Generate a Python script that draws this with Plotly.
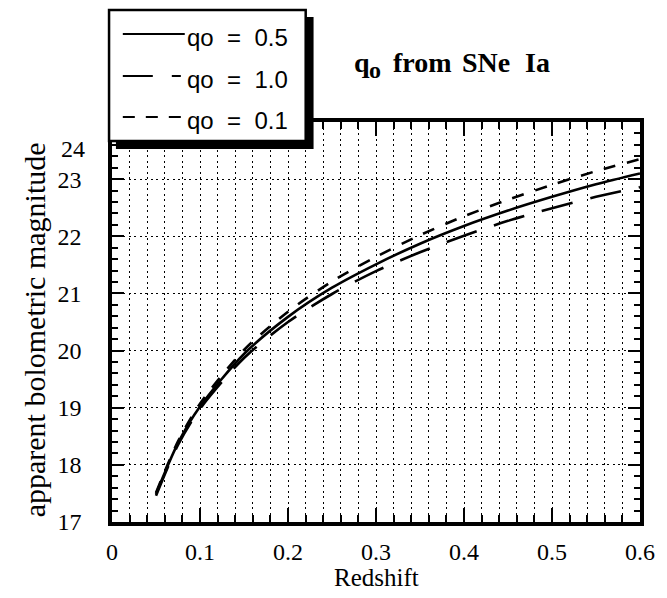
import plotly.graph_objects as go

# ---------------- data ----------------
redshift = [0.05, 0.075, 0.1, 0.15, 0.2, 0.25, 0.3, 0.35, 0.4, 0.45, 0.5, 0.55, 0.6]
mag_q05 = [17.49, 18.38, 19.02, 19.94, 20.59, 21.10, 21.51, 21.87, 22.18, 22.45, 22.69, 22.91, 23.10]
mag_q10 = [17.46, 18.35, 18.98, 19.87, 20.50, 20.99, 21.39, 21.72, 22.01, 22.27, 22.49, 22.69, 22.86]
mag_q01 = [17.51, 18.41, 19.07, 20.01, 20.68, 21.21, 21.64, 22.02, 22.35, 22.64, 22.90, 23.14, 23.35]

series_names = ["qo\u00a0 =\u00a0 0.5", "qo\u00a0 =\u00a0 1.0", "qo\u00a0 =\u00a0 0.1"]

x_tickvals = [0, 0.1, 0.2, 0.3, 0.4, 0.5, 0.6]
x_ticktext = ["0", "0.1", "0.2", "0.3", "0.4", "0.5", "0.6"]
y_tickvals = [17, 18, 19, 20, 21, 22, 23]
y_ticktext = ["17", "18", "19", "20", "21", "22", "23"]
y_top_label = "24"

title_words = ["q", "o", "from", "SNe", "Ia"]
x_title = "Redshift"
y_title = "apparent bolometric magnitude"

# ---------------- layout geometry ----------------
W, H = 667, 598
L, R, T, B = 112, 18, 122, 76
PW, PH = W - L - R, H - T - B


def px(x):
    return (x - L) / PW


def py(y):
    return (H - B - y) / PH


SERIF = "Liberation Serif, Times New Roman, serif"
SANS = "Liberation Sans, Arial, sans-serif"
GRID = dict(gridcolor="black", gridwidth=1.4, griddash="2px,3.5px")

styles = ["solid", "32px,18px", "12px,12px"]

fig = go.Figure()
for name, ys, d in zip(series_names, [mag_q05, mag_q10, mag_q01], styles):
    fig.add_trace(go.Scatter(
        x=redshift, y=ys, mode="lines", name=name,
        line=dict(color="black", width=2.6, shape="spline", smoothing=0.8, dash=d),
        showlegend=False,
    ))

fig.update_layout(
    width=W, height=H,
    margin=dict(l=L, r=R, t=T, b=B, pad=0),
    paper_bgcolor="white", plot_bgcolor="white",
    showlegend=False,
)

fig.update_xaxes(
    range=[0, 0.6], tickmode="array", tickvals=x_tickvals, ticktext=x_ticktext,
    ticks="inside", ticklen=14, tickwidth=2, tickcolor="black",
    showline=True, linewidth=3.5, linecolor="black", mirror="ticks",
    showgrid=True, zeroline=False, **GRID,
    minor=dict(dtick=0.02, tick0=0, ticks="inside", ticklen=7, tickwidth=1.8,
               tickcolor="black", showgrid=True, **GRID),
    tickfont=dict(family=SERIF, size=24, color="black"),
    ticklabelstandoff=5,
)
fig.update_yaxes(
    range=[17, 24], tickmode="array", tickvals=y_tickvals, ticktext=y_ticktext,
    ticks="inside", ticklen=12, tickwidth=2, tickcolor="black",
    showline=True, linewidth=3.5, linecolor="black", mirror="ticks",
    showgrid=True, zeroline=False, **GRID,
    minor=dict(dtick=0.2, tick0=17, ticks="inside", ticklen=6, tickwidth=1.8,
               tickcolor="black", showgrid=False),
    tickfont=dict(family=SERIF, size=24, color="black"),
    ticklabelstandoff=22,
)

# ---------------- legend box (drawn) ----------------
shapes = []
shapes.append(dict(type="rect", xref="paper", yref="paper",
                   x0=px(116), x1=px(317), y0=py(149), y1=py(17),
                   fillcolor="black", line=dict(width=0), layer="above"))
shapes.append(dict(type="rect", xref="paper", yref="paper",
                   x0=px(109), x1=px(309), y0=py(141), y1=py(10),
                   fillcolor="white", line=dict(color="black", width=2.5), layer="above"))
row_y = [34, 76, 117]
sample_end = [186, 182, 182]
sample_dash = ["solid", "30px,19px", "12px,11px"]
for yy, xe, d in zip(row_y, sample_end, sample_dash):
    shapes.append(dict(type="line", xref="paper", yref="paper",
                       x0=px(123), x1=px(xe), y0=py(yy), y1=py(yy),
                       line=dict(color="black", width=2.2, dash=d), layer="above"))
fig.update_layout(shapes=shapes)

annotations = []
for yy, name in zip(row_y, series_names):
    annotations.append(dict(xref="paper", yref="paper", x=px(186), y=py(yy + 3),
                            xanchor="left", yanchor="middle", text=name, showarrow=False,
                            font=dict(family=SANS, size=24, color="black")))

# title pieces: q, subscript o, from, SNe, Ia
title_x = [356, 371, 396, 466, 530]
title_y = [62, 70, 62, 62, 62]
title_size = [28, 24, 28, 28, 28]
for word, tx, ty, ts in zip(title_words, title_x, title_y, title_size):
    annotations.append(dict(xref="paper", yref="paper", x=px(tx), y=py(ty),
                            xanchor="left", yanchor="middle", text="<b>" + word + "</b>",
                            showarrow=False,
                            font=dict(family=SERIF, size=ts, color="black")))

annotations.append(dict(xref="paper", yref="paper", x=0.5, y=py(577),
                        xanchor="center", yanchor="middle", text=x_title, showarrow=False,
                        font=dict(family=SERIF, size=25, color="black")))
annotations.append(dict(xref="paper", yref="paper", x=px(33), y=py(330),
                        xanchor="center", yanchor="middle", text=y_title, showarrow=False,
                        textangle=-90, font=dict(family=SERIF, size=30, color="black")))
annotations.append(dict(xref="paper", yref="paper", x=px(87), y=py(149),
                        xanchor="right", yanchor="middle", text=y_top_label, showarrow=False,
                        font=dict(family=SERIF, size=24, color="black")))
fig.update_layout(annotations=annotations)

fig.write_html("out.html")
